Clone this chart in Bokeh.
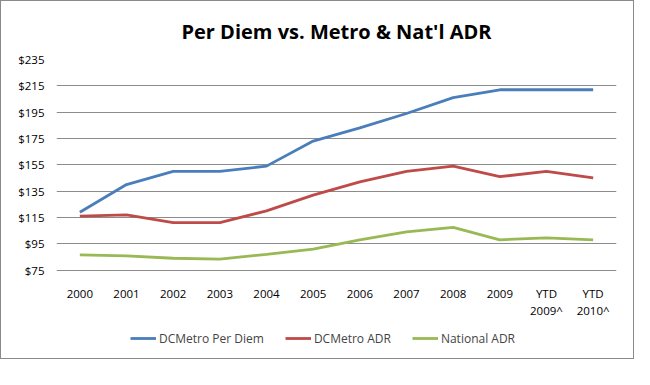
from bokeh.plotting import figure
from bokeh.models import Legend, LegendItem, NumeralTickFormatter, FixedTicker, Range1d
from bokeh.embed import file_html
from bokeh.resources import INLINE

categories = ["2000", "2001", "2002", "2003", "2004", "2005", "2006", "2007",
              "2008", "2009", "YTD\n2009^", "YTD\n2010^"]
per_diem = [119, 140, 150, 150, 154, 173, 183, 194, 206, 212, 212, 212]
metro_adr = [116, 117, 111, 111, 120, 132, 142, 150, 154, 146, 150, 145]
national_adr = [86.5, 85.8, 84, 83.3, 87, 91, 98, 104, 107.5, 98, 99.5, 98]
y_ticks = [75, 95, 115, 135, 155, 175, 195, 215, 235]

series = [
    ("DCMetro Per Diem", per_diem, "#4A7EBB"),
    ("DCMetro ADR", metro_adr, "#BE4B48"),
    ("National ADR", national_adr, "#98B954"),
]

# frame spans from the $235 line down to the bottom of the chart; the
# x axis is pinned at $75 so the legend can sit inside the frame below it
W, H = 634, 359
top_px, grid_bottom_px, frame_bottom_px = 56, 268, 357
ppu = (grid_bottom_px - top_px) / (y_ticks[-1] - y_ticks[0])
y_low = y_ticks[0] - (frame_bottom_px - grid_bottom_px) / ppu

p = figure(x_range=categories, y_range=Range1d(y_low, y_ticks[-1]), width=W, height=H,
           output_backend="svg", toolbar_location=None,
           min_border_left=55, min_border_right=19, min_border_top=0,
           min_border_bottom=H - frame_bottom_px)
p.styles = {"border": "1px solid #8a8a8a"}
p.outline_line_color = None
p.background_fill_color = "white"
p.border_fill_color = "white"

p.title.text = "Per Diem vs. Metro & Nat'l ADR"
p.title.align = "center"
p.title.text_font = "Open Sans"
p.title.text_font_style = "bold"
p.title.text_font_size = "20px"
p.title.text_color = "black"
p.title.offset = 0
p.title.padding = 10
p.title.standoff = 9

renderers = []
for name, vals, color in series:
    r = p.line(categories, vals, line_color=color, line_width=2.8)
    renderers.append((name, r))

p.xgrid.grid_line_color = None
p.ygrid.grid_line_color = "#8c8c8c"
p.ygrid.grid_line_width = 1
p.yaxis.ticker = FixedTicker(ticks=y_ticks)
p.yaxis.formatter = NumeralTickFormatter(format="$0")
for ax in (p.xaxis[0], p.yaxis[0]):
    ax.axis_line_color = None
    ax.major_tick_line_color = None
    ax.minor_tick_line_color = None
    ax.major_label_text_font = "Open Sans"
    ax.major_label_text_font_size = "11.5px"
    ax.major_label_text_color = "black"
p.yaxis.major_label_standoff = 6
p.xaxis.fixed_location = y_ticks[0]
p.xaxis.major_label_standoff = 10
p.xaxis.major_label_text_line_height = 1.15

legend = Legend(items=[LegendItem(label=n, renderers=[r]) for n, r in renderers],
                orientation="horizontal", location=(74, 10),
                border_line_color=None, background_fill_alpha=0,
                label_text_font="Open Sans", label_text_font_size="12px",
                glyph_width=26, label_standoff=3, spacing=21, margin=0, padding=4)
p.add_layout(legend, "center")

open("out.html", "w").write(file_html(p, INLINE))
